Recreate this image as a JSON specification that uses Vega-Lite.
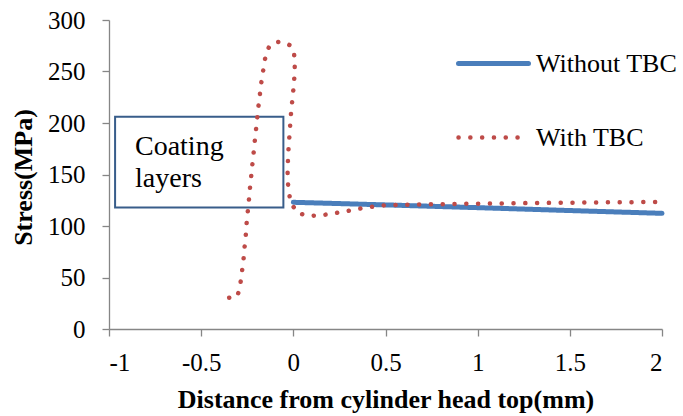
{
  "$schema": "https://vega.github.io/schema/vega-lite/v6.json",
  "width": 553,
  "height": 309,
  "autosize": {"type": "none"},
  "padding": {"left": 109, "top": 20, "right": 21, "bottom": 87},
  "background": "white",
  "config": {
    "view": {"stroke": null},
    "font": "Liberation Serif, Times New Roman, serif",
    "axis": {
      "grid": false,
      "domainColor": "#868686",
      "tickColor": "#868686",
      "domainWidth": 1.3,
      "tickWidth": 1.3,
      "tickSize": 7,
      "labelFont": "Liberation Serif, Times New Roman, serif",
      "labelFontSize": 25,
      "labelColor": "#000000",
      "titleFont": "Liberation Serif, Times New Roman, serif",
      "titleFontSize": 26,
      "titleFontWeight": "bold",
      "titleColor": "#000000"
    },
    "legend": {
      "labelFont": "Liberation Serif, Times New Roman, serif"
    },
    "text": {"font": "Liberation Serif, Times New Roman, serif"}
  },
  "datasets": {
    "series": [
      {"i": 1, "series": "Without TBC", "x": 0.0, "y": 123.0},
      {"i": 2, "series": "Without TBC", "x": 0.5, "y": 120.5},
      {"i": 3, "series": "Without TBC", "x": 1.0, "y": 117.8},
      {"i": 4, "series": "Without TBC", "x": 1.5, "y": 115.0},
      {"i": 5, "series": "Without TBC", "x": 2.0, "y": 112.3},
      {"i": 1, "series": "With TBC", "x": -0.348, "y": 30.4},
      {"i": 2, "series": "With TBC", "x": -0.305, "y": 31.2},
      {"i": 3, "series": "With TBC", "x": -0.29, "y": 40.0},
      {"i": 4, "series": "With TBC", "x": -0.28, "y": 54.0},
      {"i": 5, "series": "With TBC", "x": -0.271, "y": 65.7},
      {"i": 6, "series": "With TBC", "x": -0.266, "y": 77.4},
      {"i": 7, "series": "With TBC", "x": -0.259, "y": 88.0},
      {"i": 8, "series": "With TBC", "x": -0.255, "y": 99.7},
      {"i": 9, "series": "With TBC", "x": -0.249, "y": 111.0},
      {"i": 10, "series": "With TBC", "x": -0.242, "y": 123.0},
      {"i": 11, "series": "With TBC", "x": -0.237, "y": 134.0},
      {"i": 12, "series": "With TBC", "x": -0.23, "y": 145.6},
      {"i": 13, "series": "With TBC", "x": -0.224, "y": 157.0},
      {"i": 14, "series": "With TBC", "x": -0.217, "y": 168.0},
      {"i": 15, "series": "With TBC", "x": -0.211, "y": 179.6},
      {"i": 16, "series": "With TBC", "x": -0.204, "y": 191.0},
      {"i": 17, "series": "With TBC", "x": -0.197, "y": 202.6},
      {"i": 18, "series": "With TBC", "x": -0.191, "y": 213.9},
      {"i": 19, "series": "With TBC", "x": -0.183, "y": 225.0},
      {"i": 20, "series": "With TBC", "x": -0.176, "y": 236.6},
      {"i": 21, "series": "With TBC", "x": -0.166, "y": 247.9},
      {"i": 22, "series": "With TBC", "x": -0.157, "y": 259.0},
      {"i": 23, "series": "With TBC", "x": -0.146, "y": 268.5},
      {"i": 24, "series": "With TBC", "x": -0.13, "y": 274.5},
      {"i": 25, "series": "With TBC", "x": -0.106, "y": 278.0},
      {"i": 26, "series": "With TBC", "x": -0.072, "y": 279.0},
      {"i": 27, "series": "With TBC", "x": -0.04, "y": 277.5},
      {"i": 28, "series": "With TBC", "x": -0.014, "y": 275.0},
      {"i": 29, "series": "With TBC", "x": 0.003, "y": 269.5},
      {"i": 30, "series": "With TBC", "x": 0.008, "y": 259.0},
      {"i": 31, "series": "With TBC", "x": 0.007, "y": 248.0},
      {"i": 32, "series": "With TBC", "x": 0.002, "y": 236.0},
      {"i": 33, "series": "With TBC", "x": -0.004, "y": 224.6},
      {"i": 34, "series": "With TBC", "x": -0.011, "y": 213.0},
      {"i": 35, "series": "With TBC", "x": -0.016, "y": 201.7},
      {"i": 36, "series": "With TBC", "x": -0.02, "y": 190.0},
      {"i": 37, "series": "With TBC", "x": -0.025, "y": 179.0},
      {"i": 38, "series": "With TBC", "x": -0.028, "y": 168.0},
      {"i": 39, "series": "With TBC", "x": -0.031, "y": 156.0},
      {"i": 40, "series": "With TBC", "x": -0.031, "y": 145.0},
      {"i": 41, "series": "With TBC", "x": -0.025, "y": 133.7},
      {"i": 42, "series": "With TBC", "x": -0.014, "y": 122.5},
      {"i": 43, "series": "With TBC", "x": 0.024, "y": 112.6},
      {"i": 44, "series": "With TBC", "x": 0.085, "y": 109.7},
      {"i": 45, "series": "With TBC", "x": 0.149, "y": 110.4},
      {"i": 46, "series": "With TBC", "x": 0.212, "y": 112.0},
      {"i": 47, "series": "With TBC", "x": 0.276, "y": 114.0},
      {"i": 48, "series": "With TBC", "x": 0.339, "y": 116.2},
      {"i": 49, "series": "With TBC", "x": 0.402, "y": 118.1},
      {"i": 50, "series": "With TBC", "x": 0.466, "y": 119.7},
      {"i": 51, "series": "With TBC", "x": 0.529, "y": 120.4},
      {"i": 52, "series": "With TBC", "x": 0.6, "y": 120.7},
      {"i": 53, "series": "With TBC", "x": 0.8, "y": 121.2},
      {"i": 54, "series": "With TBC", "x": 1.0, "y": 121.7},
      {"i": 55, "series": "With TBC", "x": 1.2, "y": 122.1},
      {"i": 56, "series": "With TBC", "x": 1.4, "y": 122.5},
      {"i": 57, "series": "With TBC", "x": 1.6, "y": 122.8},
      {"i": 58, "series": "With TBC", "x": 1.8, "y": 123.1},
      {"i": 59, "series": "With TBC", "x": 2.0, "y": 123.3}
    ],
    "box": [
      {"x1": -0.967, "x2": -0.054, "y1": 118, "y2": 206}
    ],
    "notes": [
      {"label": "Coating", "x": -0.859, "y": 168.9},
      {"label": "layers", "x": -0.859, "y": 137.6}
    ]
  },
  "layer": [
    {
      "data": {"name": "box"},
      "mark": {"type": "rect", "filled": false, "stroke": "#385D8A", "strokeWidth": 2},
      "encoding": {
        "x": {"field": "x1", "type": "quantitative", "scale": {"domain": [-1, 2], "nice": false, "zero": false}},
        "x2": {"field": "x2"},
        "y": {"field": "y1", "type": "quantitative", "scale": {"domain": [0, 300], "nice": false}},
        "y2": {"field": "y2"}
      }
    },
    {
      "data": {"name": "notes"},
      "mark": {"type": "text", "font": "Liberation Serif, Times New Roman, serif", "fontSize": 28, "align": "left", "baseline": "alphabetic", "color": "#000000"},
      "encoding": {
        "x": {"field": "x", "type": "quantitative"},
        "y": {"field": "y", "type": "quantitative"},
        "text": {"field": "label"}
      }
    },
    {
      "data": {"name": "series"},
      "mark": {"type": "line", "strokeCap": "round", "strokeJoin": "round"},
      "encoding": {
        "x": {
          "field": "x", "type": "quantitative",
          "scale": {"domain": [-1, 2], "nice": false, "zero": false},
          "axis": {
            "values": [-1, -0.5, 0, 0.5, 1, 1.5, 2],
            "labelExpr": "'' + datum.value",
            "labelPadding": 14,
            "title": "Distance from cylinder head top(mm)",
            "titleY": 78,
            "titleBaseline": "alphabetic"
          }
        },
        "y": {
          "field": "y", "type": "quantitative",
          "scale": {"domain": [0, 300], "nice": false},
          "axis": {
            "values": [0, 50, 100, 150, 200, 250, 300],
            "labelPadding": 17,
            "title": "Stress(MPa)",
            "titleX": -86,
            "titleY": 157,
            "titleAlign": "center",
            "titleBaseline": "middle"
          }
        },
        "order": {"field": "i", "type": "quantitative"},
        "color": {
          "field": "series", "type": "nominal",
          "scale": {"domain": ["Without TBC", "With TBC"], "range": ["#4A7EBB", "#BE4B48"]},
          "legend": {
            "title": null,
            "orient": "none",
            "legendX": 347,
            "legendY": 6,
            "symbolType": "stroke",
            "symbolSize": 4900,
            "symbolStrokeWidth": 4.5,
            "labelFont": "Liberation Serif, Times New Roman, serif",
            "labelFontSize": 26,
            "labelColor": "#000000",
            "labelOffset": 5,
            "labelLimit": 300,
            "rowPadding": 23,
            "padding": 0,
            "encode": {"symbols": {"update": {"strokeCap": {"value": "round"}}}}
          }
        },
        "strokeDash": {
          "field": "series", "type": "nominal",
          "scale": {"domain": ["Without TBC", "With TBC"], "range": [[1, 0], [0.1, 11.7]]}
        },
        "strokeWidth": {
          "field": "series", "type": "nominal",
          "scale": {"domain": ["Without TBC", "With TBC"], "range": [5, 4.5]},
          "legend": null
        }
      }
    }
  ]
}
